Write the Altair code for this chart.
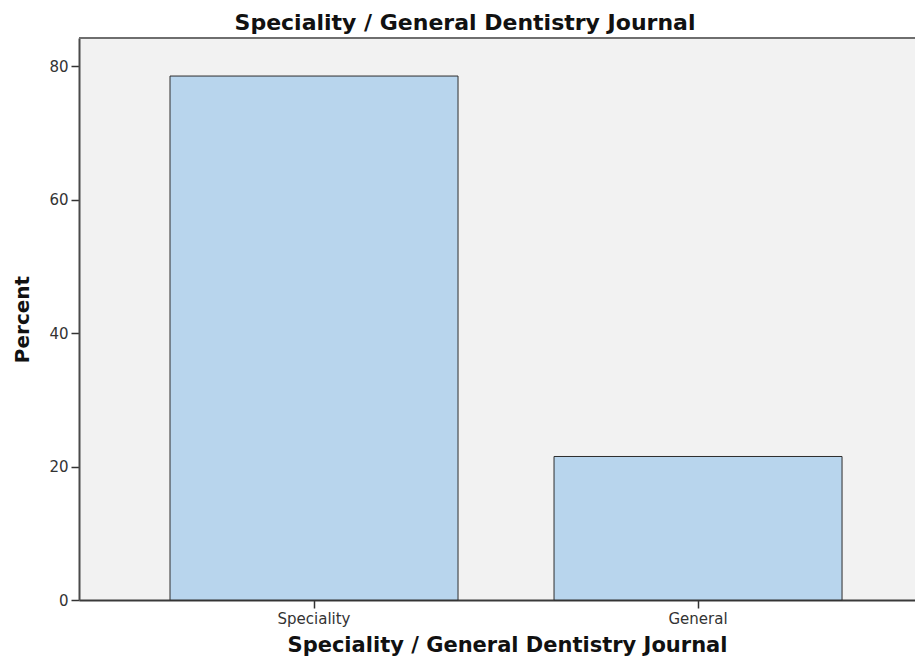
import altair as alt
import pandas as pd

categories = ["Speciality", "General"]
percents = [78.5, 21.5]
y_ticks = [0, 20, 40, 60, 80]

df = pd.DataFrame({"journal": categories, "percent": percents})

W, H = 836, 562
FONT = "DejaVu Sans"

bars = alt.Chart(df).mark_bar(fill="#b8d5ed", stroke="#2e2e2e", strokeWidth=1).encode(
    x=alt.X(
        "journal:N",
        sort=categories,
        scale=alt.Scale(paddingInner=0.25, paddingOuter=0.2135, align=0.555),
        axis=alt.Axis(
            title="Speciality / General Dentistry Journal",
            labelAngle=0,
            labelFontSize=15,
            labelColor="#333",
            labelFont=FONT,
            tickSize=8,
            tickColor="#333",
            tickWidth=1.5,
            domainColor="#3a3a3a",
            domainWidth=2,
            labelPadding=3,
            titleFont=FONT,
            titleFontSize=21,
            titleFontWeight="bold",
            titleColor="#111",
            titleBaseline="alphabetic",
            titleY=51,
            titleX=428,
        ),
    ),
    y=alt.Y(
        "percent:Q",
        scale=alt.Scale(domain=[0, 84.2], nice=False),
        axis=alt.Axis(
            values=y_ticks,
            title="Percent",
            grid=False,
            labelFontSize=15,
            labelColor="#333",
            labelFont=FONT,
            tickSize=8,
            tickColor="#333",
            tickWidth=1.5,
            domainColor="#4a4a4a",
            domainWidth=2,
            labelPadding=3,
            titleFont=FONT,
            titleFontSize=20,
            titleFontWeight="bold",
            titleColor="#111",
            titleBaseline="alphabetic",
            titleX=-51,
            titleY=281,
        ),
    ),
)

top_border = alt.Chart(pd.DataFrame({"k": [0]})).mark_rule(color="#6e6e6e", strokeWidth=2).encode(
    x=alt.value(0), x2=alt.value(W), y=alt.value(0)
)

chart = (
    alt.layer(bars, top_border)
    .properties(
        width=W,
        height=H,
        title=alt.TitleParams(
            "Speciality / General Dentistry Journal",
            font=FONT,
            fontSize=22,
            fontWeight="bold",
            color="#111",
            anchor="middle",
            frame="group",
            dx=-32,
            offset=2,
        ),
        autosize=alt.AutoSizeParams(type="none"),
        padding={"left": 71, "top": 30, "right": 0, "bottom": 57},
    )
    .configure_view(fill="#f2f2f2", strokeWidth=0)
)

chart.save("out.html", embed_options={"renderer": "svg", "actions": False})
